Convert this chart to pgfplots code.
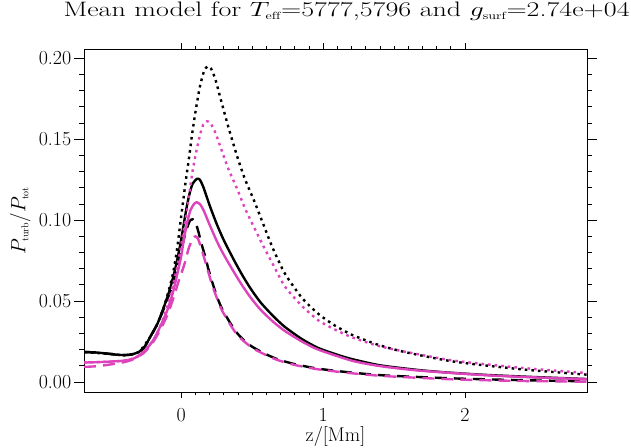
\documentclass[border=0pt]{standalone}
\usepackage{fontspec}
\usepackage{graphicx}
\usepackage{pgfplots}
\pgfplotsset{compat=1.18}
\definecolor{mag}{RGB}{221,68,187}
\newcommand\tfont{\fontsize{20}{20}\selectfont}
\newcommand\titlefont{\fontsize{21}{21}\selectfont}
\begin{document}
\begin{tikzpicture}[x=1bp,y=1bp]
\useasboundingbox (0,0) rectangle (631,448);
\begin{axis}[
  at={(84bp,56bp)}, anchor=south west,
  width=503bp, height=342.5bp, scale only axis,
  xmin=-0.686, xmax=2.86, ymin=-0.0062, ymax=0.2054,
  xtick={0,1,2}, minor x tick num=9,
  ytick={0,0.05,0.1,0.15,0.2}, minor y tick num=4,
  tick align=outside,
  xtick style={/pgfplots/major tick length=6bp,/pgfplots/minor tick length=3bp, black, line width=0.8bp},
  ytick style={/pgfplots/major tick length=10bp,/pgfplots/minor tick length=5bp, black, line width=0.8bp},
  axis line style={line width=0.8bp},
  yticklabel style={xshift=-5bp, /pgf/number format/.cd, fixed, fixed zerofill, precision=2},
  xticklabel style={yshift=-9bp},
  /pgf/number format/assume math mode=true,
  tick label style={font=\tfont},
  xlabel={z/[Mm]},
  xlabel style={font=\tfont, at={(axis description cs:0.5,-0.145)}, anchor=base},
  ylabel={$P_{\scriptscriptstyle\mathrm{turb}}/P_{\scriptscriptstyle\mathrm{tot}}$},
  ylabel style={font=\tfont, at={(axis description cs:-0.127,0.5)}, anchor=center},
  title={\scalebox{1.34}[1]{Mean model for $T_{\scriptscriptstyle\mathrm{eff}}$=5777,5796 and $g_{\scriptscriptstyle\mathrm{surf}}$=2.74e+04}},
  title style={font=\titlefont, at={(axis description cs:0.522,1.078)}, anchor=base},
  every axis plot/.append style={smooth, tension=0.4, line width=2.4bp, line cap=butt},
]
% black solid
\addplot[black] coordinates {
(-0.686,0.0185)(-0.6,0.0182)(-0.5,0.0173)(-0.45,0.0168)(-0.4,0.0166)(-0.35,0.0170)(-0.3,0.0185)(-0.26,0.0215)(-0.215,0.0285)(-0.168,0.036)(-0.12,0.047)(-0.078,0.058)(-0.04,0.071)(-0.007,0.085)(0.02,0.099)(0.04,0.109)(0.06,0.117)(0.08,0.1225)(0.11,0.1255)(0.13,0.125)(0.155,0.1205)(0.2,0.109)(0.25,0.0975)(0.3,0.0875)(0.37,0.0755)(0.43,0.066)(0.49,0.0575)(0.56,0.049)(0.65,0.0405)(0.73,0.034)(0.85,0.0265)(0.965,0.021)(1.1,0.0168)(1.2,0.0142)(1.4,0.0103)(1.68,0.0073)(1.9,0.0057)(2.16,0.0043)(2.5,0.003)(2.86,0.0018)
};
% black dashed
\addplot[black, dash pattern=on 12bp off 7bp] coordinates {
(-0.686,0.0185)(-0.6,0.0182)(-0.5,0.0173)(-0.45,0.0168)(-0.4,0.0166)(-0.35,0.0170)(-0.3,0.0185)(-0.26,0.0215)(-0.215,0.0285)(-0.168,0.036)(-0.12,0.046)(-0.078,0.056)(-0.04,0.067)(-0.007,0.079)(0.02,0.089)(0.04,0.095)(0.06,0.0995)(0.08,0.1005)(0.1,0.0985)(0.12,0.093)(0.14,0.086)(0.17,0.077)(0.19,0.070)(0.217,0.062)(0.25,0.053)(0.288,0.045)(0.348,0.036)(0.395,0.030)(0.45,0.025)(0.51,0.0212)(0.6,0.017)(0.68,0.014)(0.8,0.011)(0.965,0.0082)(1.2,0.0058)(1.44,0.004)(1.92,0.0022)(2.4,0.0011)(2.86,0.0004)
};
% black dotted
\addplot[black, dash pattern=on 2.6bp off 4bp] coordinates {
(-0.686,0.0185)(-0.5,0.0173)(-0.4,0.0166)(-0.3,0.0185)(-0.215,0.0285)(-0.168,0.036)(-0.12,0.047)(-0.078,0.060)(-0.055,0.0687)(-0.03,0.082)(-0.007,0.098)(0.028,0.122)(0.052,0.137)(0.076,0.153)(0.1,0.167)(0.13,0.182)(0.16,0.192)(0.185,0.195)(0.21,0.1935)(0.24,0.187)(0.277,0.175)(0.33,0.158)(0.395,0.139)(0.45,0.125)(0.513,0.112)(0.58,0.097)(0.643,0.083)(0.73,0.067)(0.85,0.052)(0.967,0.042)(1.08,0.035)(1.206,0.029)(1.38,0.0232)(1.56,0.0188)(1.92,0.0126)(2.4,0.0078)(2.86,0.0045)
};
% magenta solid
\addplot[mag] coordinates {
(-0.686,0.012)(-0.6,0.0122)(-0.5,0.0126)(-0.4,0.0132)(-0.33,0.0147)(-0.26,0.019)(-0.2,0.0255)(-0.15,0.034)(-0.1,0.044)(-0.06,0.055)(-0.03,0.066)(0.0,0.078)(0.016,0.087)(0.04,0.098)(0.064,0.106)(0.09,0.110)(0.11,0.111)(0.135,0.1095)(0.16,0.1055)(0.2,0.097)(0.253,0.0865)(0.3,0.0785)(0.37,0.068)(0.43,0.0595)(0.49,0.052)(0.56,0.0445)(0.65,0.037)(0.73,0.0315)(0.85,0.025)(0.965,0.02)(1.2,0.0132)(1.4,0.0098)(1.68,0.007)(2.16,0.0041)(2.5,0.0028)(2.86,0.0017)
};
% magenta dashed
\addplot[mag, dash pattern=on 12bp off 7bp] coordinates {
(-0.686,0.0093)(-0.6,0.0097)(-0.5,0.0108)(-0.4,0.0123)(-0.33,0.0143)(-0.26,0.0183)(-0.2,0.0245)(-0.15,0.032)(-0.1,0.041)(-0.055,0.052)(-0.02,0.062)(0.0,0.067)(0.03,0.075)(0.05,0.082)(0.08,0.0885)(0.1,0.090)(0.12,0.088)(0.15,0.080)(0.18,0.071)(0.217,0.060)(0.25,0.052)(0.288,0.044)(0.348,0.035)(0.395,0.029)(0.45,0.0245)(0.51,0.0205)(0.6,0.0165)(0.68,0.0135)(0.8,0.0105)(0.965,0.0078)(1.2,0.0054)(1.44,0.0036)(1.92,0.0016)(2.4,0.0006)(2.86,0.0002)
};
% magenta dotted
\addplot[mag, dash pattern=on 2.6bp off 4bp] coordinates {
(-0.686,0.012)(-0.5,0.0126)(-0.4,0.0132)(-0.3,0.016)(-0.2,0.0255)(-0.15,0.034)(-0.1,0.046)(-0.055,0.061)(-0.02,0.075)(0.01,0.09)(0.04,0.106)(0.076,0.1285)(0.1,0.140)(0.13,0.152)(0.155,0.159)(0.18,0.161)(0.205,0.160)(0.24,0.154)(0.277,0.145)(0.33,0.132)(0.395,0.119)(0.45,0.107)(0.513,0.0955)(0.584,0.083)(0.65,0.072)(0.73,0.059)(0.85,0.047)(0.967,0.038)(1.08,0.0325)(1.206,0.0275)(1.38,0.0225)(1.56,0.019)(1.92,0.0132)(2.4,0.0087)(2.86,0.0055)
};
\end{axis}
\end{tikzpicture}
\end{document}
